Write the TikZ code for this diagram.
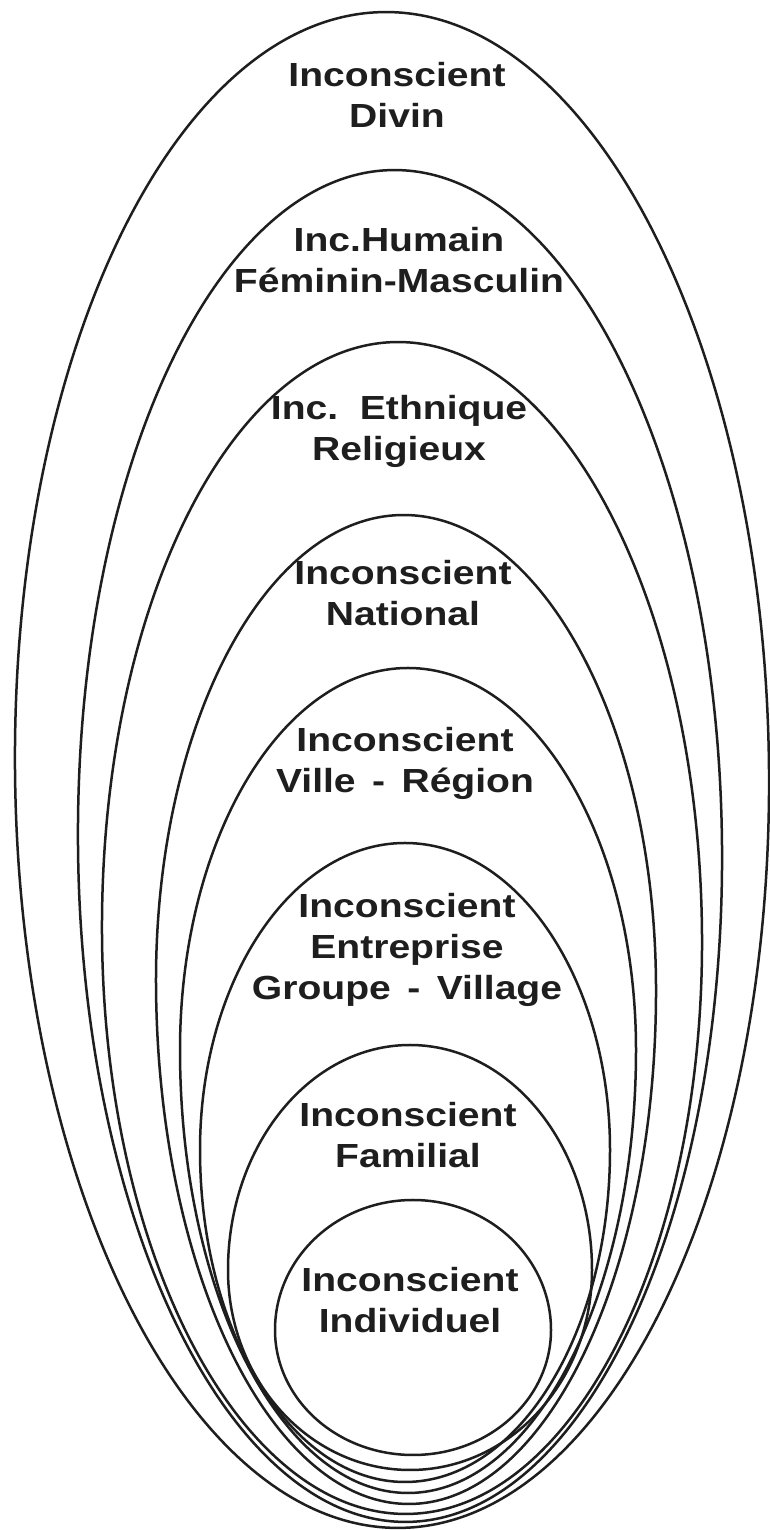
\documentclass[tikz,border=0pt]{standalone}
\usepackage{fontspec}
\newfontfamily\lblfont{Liberation Sans}[FakeStretch=1.17]
\definecolor{ink}{HTML}{1E1E1E}
\begin{document}
\frenchspacing
\begin{tikzpicture}[x=0.5pt,y=0.5pt,
  ring/.style={draw=ink,line width=1.25pt},
  lbl/.style={font=\lblfont\bfseries\fontsize{16.7}{20.5}\selectfont,
    text=ink,align=center,anchor=base,inner sep=0pt}]
% page frame
\fill[white] (0,0) rectangle (770,1530);
\useasboundingbox (0,0) rectangle (770,1530);

% egg-shaped rings: upper half-ellipse, then lower half-ellipse,
% each slightly tilted about its widest point
\draw[ring,rotate around={0.6:(392,760)}] (15,760)
  arc[start angle=180,end angle=0,x radius=377,y radius=758]
  arc[start angle=0,end angle=-180,x radius=377,y radius=758] -- cycle;
\draw[ring,rotate around={0.6:(400,684)}] (78,684)
  arc[start angle=180,end angle=0,x radius=322,y radius=676]
  arc[start angle=0,end angle=-180,x radius=322,y radius=676] -- cycle;
\draw[ring,rotate around={0.5:(402,595)}] (102,595)
  arc[start angle=180,end angle=0,x radius=300,y radius=593]
  arc[start angle=0,end angle=-180,x radius=300,y radius=579] -- cycle;
\draw[ring,rotate around={0.4:(406,545)}] (156,545)
  arc[start angle=180,end angle=0,x radius=250,y radius=470]
  arc[start angle=0,end angle=-180,x radius=250,y radius=519] -- cycle;
\draw[ring] (180,480)
  arc[start angle=180,end angle=0,x radius=228,y radius=382]
  arc[start angle=0,end angle=-180,x radius=228,y radius=443] -- cycle;
\draw[ring] (200,380)
  arc[start angle=180,end angle=0,x radius=205,y radius=307]
  arc[start angle=0,end angle=-180,x radius=205,y radius=332] -- cycle;
\draw[ring] (228,260)
  arc[start angle=180,end angle=0,x radius=182,y radius=225]
  arc[start angle=0,end angle=-180,x radius=182,y radius=200] -- cycle;
\draw[ring] (275,200)
  arc[start angle=180,end angle=0,x radius=138,y radius=130]
  arc[start angle=0,end angle=-180,x radius=138,y radius=125] -- cycle;

% labels (anchored at the baseline of their last line)
\node[lbl] (divin)    at (397,1402) {Inconscient\\Divin};
\node[lbl] (humain)   at (399,1237) {Inc.Humain\\Féminin-Masculin};
\node[lbl] (ethnique) at (399,1069) {Inc.~ Ethnique\\Religieux};
\node[lbl] (national) at (403,904)  {Inconscient\\National};
\node[lbl] (ville)    at (405,737)  {Inconscient\\Ville \,- \,Région};
\node[lbl] (groupe)   at (407,530)  {Inconscient\\Entreprise\\Groupe \,- \,Village};
\node[lbl] (familial) at (408,362)  {Inconscient\\Familial};
\node[lbl] (indiv)    at (410,197)  {Inconscient\\Individuel};
\end{tikzpicture}
\end{document}
